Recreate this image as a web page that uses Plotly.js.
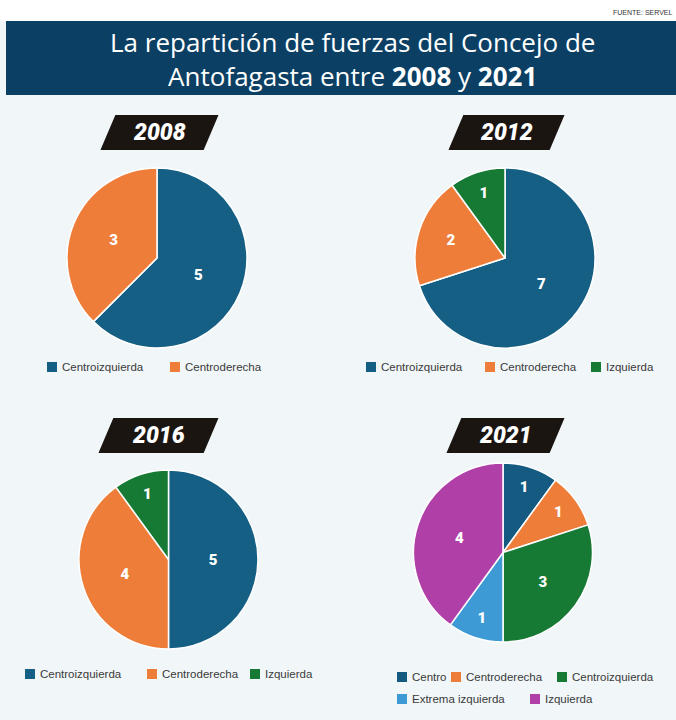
<!DOCTYPE html>
<html>
<head>
<meta charset="utf-8">
<script src="https://cdn.plot.ly/plotly-3.0.1.min.js"></script>
<style>
html,body{margin:0;padding:0;background:#f1f6f9;}
#chart{width:676px;height:720px;}
</style>
</head>
<body>
<div id="chart"></div>
<script>
// ---- data ----
var years = ["2008", "2012", "2016", "2021"];
var labels2008 = ["Centroizquierda", "Centroderecha"];
var values2008 = [5, 3];
var colors2008 = ["#155f84", "#ee7d3a"];

var labels2012 = ["Centroizquierda", "Centroderecha", "Izquierda"];
var values2012 = [7, 2, 1];
var colors2012 = ["#155f84", "#ee7d3a", "#167a35"];

var labels2016 = ["Centroizquierda", "Centroderecha", "Izquierda"];
var values2016 = [5, 4, 1];
var colors2016 = ["#155f84", "#ee7d3a", "#167a35"];

var labels2021 = ["Centro", "Centroderecha", "Centroizquierda", "Extrema izquierda", "Izquierda"];
var values2021 = [1, 1, 3, 1, 4];
var colors2021 = ["#155a80", "#ee7d3a", "#167a35", "#3d9ad5", "#b13fa8"];

var titleLine1 = "La repartición de fuerzas del Concejo de";
var titleLine2 = "Antofagasta entre <b>2008</b> y <b>2021</b>";
var sourceText = "FUENTE: SERVEL";

// ---- layout helpers (pixel -> paper) ----
var W = 676, H = 720;
function px(x){ return x / W; }
function py(y){ return 1 - y / H; }

// pie boxes in pixels [x0, x1, y0, y1]
var boxes = [[67, 247, 168, 348], [415, 595, 168, 348], [79, 258, 470, 649], [413, 593, 463, 642]];
// tag boxes: [left bottom x, top y, bottom y, right top x]
var tags = [[102, 116, 149, 217], [450, 116, 149, 563], [100, 419, 452, 217], [448, 419, 452, 563]];
// legend items: [square x, y]
var legendPos = [
  [[47, 367], [170, 367]],
  [[366, 367], [485, 367], [591, 367]],
  [[25, 674], [147, 674], [250, 674]],
  [[397, 677], [451, 677], [557, 677], [397, 699], [530, 699]]
];

var allLabels = [labels2008, labels2012, labels2016, labels2021];
var allValues = [values2008, values2012, values2016, values2021];
var allColors = [colors2008, colors2012, colors2016, colors2021];

var data = [];
for (var i = 0; i < 4; i++) {
  var b = boxes[i];
  data.push({
    type: "pie",
    labels: allLabels[i],
    values: allValues[i],
    marker: {colors: allColors[i], line: {color: "#ffffff", width: 1.5}},
    sort: false,
    direction: "clockwise",
    rotation: 0,
    textinfo: "value",
    textposition: "inside",
    insidetextorientation: "horizontal",
    textfont: {family: "Roboto, Arial, sans-serif", size: 15, color: "#ffffff", weight: 900},
    hoverinfo: "label+value",
    showlegend: false,
    domain: {x: [px(b[0]), px(b[1])], y: [py(b[3]), py(b[2])]}
  });
}

var shapes = [
  // white top strip
  {type: "rect", xref: "paper", yref: "paper", x0: 0, x1: 1, y0: py(21), y1: 1, fillcolor: "#ffffff", line: {width: 0}, layer: "below"},
  // header band
  {type: "rect", xref: "paper", yref: "paper", x0: px(6), x1: 1, y0: py(95), y1: py(21), fillcolor: "#0b3f64", line: {width: 0}, layer: "below"}
];
var annotations = [
  {text: titleLine1 + "<br>" + titleLine2, xref: "paper", yref: "paper", x: px(352), y: py(59), xanchor: "center", yanchor: "middle",
   showarrow: false, align: "center", font: {family: "Open Sans, sans-serif", size: 26, color: "#ffffff"}},
  {text: sourceText, xref: "paper", yref: "paper", x: px(674), y: py(12), xanchor: "right", yanchor: "middle",
   showarrow: false, font: {family: "Liberation Sans, Arial, sans-serif", size: 7, color: "#333333"}}
];

for (var i = 0; i < 4; i++) {
  var t = tags[i];
  var slant = 14;
  var path = "M" + px(t[0]) + "," + py(t[2]) +
             " L" + px(t[0] + slant) + "," + py(t[1]) +
             " L" + px(t[3]) + "," + py(t[1]) +
             " L" + px(t[3] - slant) + "," + py(t[2]) + " Z";
  shapes.push({type: "path", xref: "paper", yref: "paper", path: path, fillcolor: "#1b1512", line: {color: "#1b1512", width: 2}});
  annotations.push({text: "<i>" + years[i] + "</i>", xref: "paper", yref: "paper",
    x: px((t[0] + t[3]) / 2), y: py((t[1] + t[2]) / 2), xanchor: "center", yanchor: "middle", showarrow: false,
    font: {family: "Roboto, Arial, sans-serif", size: 23, color: "#ffffff", weight: 900}});

  // legend
  var lp = legendPos[i];
  for (var j = 0; j < lp.length; j++) {
    var sx = lp[j][0], sy = lp[j][1];
    shapes.push({type: "rect", xref: "paper", yref: "paper", x0: px(sx), x1: px(sx + 10), y0: py(sy + 5), y1: py(sy - 5),
      fillcolor: allColors[i][j], line: {width: 0}});
    annotations.push({text: allLabels[i][j], xref: "paper", yref: "paper", x: px(sx + 13), y: py(sy),
      xanchor: "left", yanchor: "middle", showarrow: false,
      font: {family: "Liberation Sans, Arial, sans-serif", size: 11.5, color: "#3a3a3a"}});
  }
}

var layout = {
  width: W, height: H,
  margin: {l: 0, r: 0, t: 0, b: 0},
  paper_bgcolor: "#f1f6f9",
  plot_bgcolor: "#f1f6f9",
  showlegend: false,
  shapes: shapes,
  annotations: annotations
};

Plotly.newPlot("chart", data, layout, {displayModeBar: false, staticPlot: true});
</script>
</body>
</html>
